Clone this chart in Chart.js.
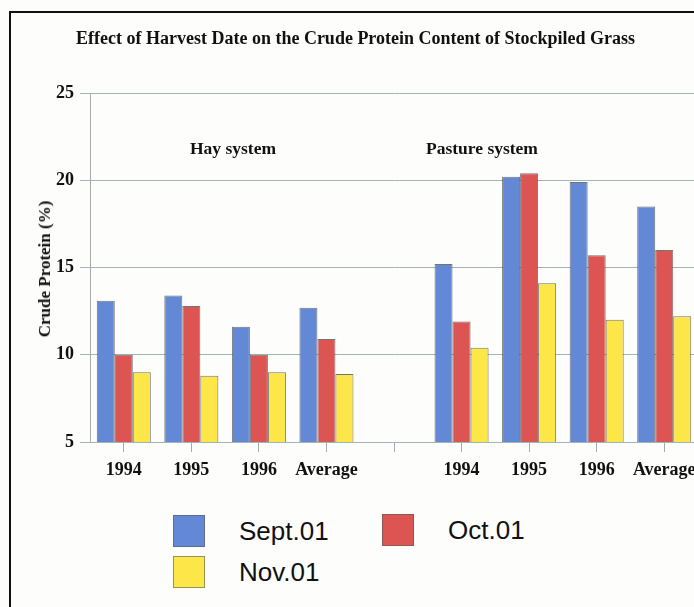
<!DOCTYPE html>
<html>
<head>
<meta charset="utf-8">
<script src="https://cdn.jsdelivr.net/npm/chart.js@4/dist/chart.umd.min.js"></script>
<style>
  html, body { margin:0; padding:0; background:#fdfdfc; }
  body { width:694px; height:607px; overflow:hidden; position:relative; }
  #frame { position:absolute; left:9px; top:11px; width:700px; height:620px;
           border-top:2.5px solid #111; border-left:2.5px solid #111; }
  #chart { position:absolute; left:0; top:0; }
  .serif { position:absolute; font-family:"Liberation Serif","Times New Roman",serif; font-weight:bold; color:#111; white-space:nowrap; }
  #title { left:0; width:711px; top:28px; text-align:center; font-size:18px; }
  #ytitle { left:45px; top:269px; font-size:17px; transform:translate(-50%,-50%) rotate(-90deg); }
  .group { top:138px; font-size:17.5px; }
  .leg-box { position:absolute; width:32px; height:32px; box-sizing:border-box; border:1px solid rgba(90,90,90,0.6); }
  .leg-txt { position:absolute; font-family:"Liberation Sans",Arial,sans-serif; font-size:26px; color:#111; line-height:32px; }
</style>
</head>
<body>
<div id="frame"></div>
<canvas id="chart" width="710" height="500"></canvas>
<div id="title" class="serif">Effect of Harvest Date on the Crude Protein Content of Stockpiled Grass</div>
<div id="ytitle" class="serif">Crude Protein (%)</div>
<div class="serif group" style="left:190px;">Hay system</div>
<div class="serif group" style="left:426px;">Pasture system</div>
<div id="legend"></div>
<script>
// categories: hay system, empty gap, pasture system
const categories = ['1994', '1995', '1996', 'Average', '', '1994', '1995', '1996', 'Average'];
const sept = [13.1, 13.4, 11.6, 12.7, null, 15.2, 20.2, 19.9, 18.5];
const oct  = [10.0, 12.8, 10.0, 10.9, null, 11.9, 20.4, 15.7, 16.0];
const nov  = [ 9.0,  8.8,  9.0,  8.9, null, 10.4, 14.1, 12.0, 12.2];
const seriesNames  = ['Sept.01', 'Oct.01', 'Nov.01'];
const seriesColors = ['#6288d6', '#dc5552', '#fde648'];
const yTicks = [5, 10, 15, 20, 25];

const serif = { family:'"Liberation Serif","Times New Roman",serif', weight:'bold', size:18 };
const gridColor = '#9fb6b4';

const datasets = [sept, oct, nov].map((data, i) => ({
  label: seriesNames[i],
  data,
  backgroundColor: seriesColors[i],
  borderColor: 'rgba(70,70,70,0.75)',
  borderWidth: 1,
  categoryPercentage: 0.8,
  barPercentage: 1.0
}));

new Chart(document.getElementById('chart'), {
  type: 'bar',
  data: { labels: categories, datasets },
  options: {
    responsive: false,
    animation: false,
    layout: { padding: { top: 93, right: 12, left: 0, bottom: 0 } },
    plugins: { legend: { display: false }, tooltip: { enabled: false } },
    scales: {
      x: {
        afterFit: s => { s.height = 58; },
        grid: { offset: false, drawOnChartArea: false, drawTicks: true, tickLength: 10, color: '#aaa' },
        border: { display: true, color: gridColor },
        ticks: { color: '#111', font: serif, padding: 8, maxRotation: 0, autoSkip: false }
      },
      y: {
        min: 5, max: 25,
        afterFit: s => { s.width = 90; },
        afterBuildTicks: s => { s.ticks = yTicks.map(v => ({ value: v })); },
        grid: { color: gridColor, drawTicks: true, tickLength: 10 },
        border: { display: true, color: '#aaa' },
        ticks: { color: '#111', font: serif, padding: 6 }
      }
    }
  }
});

// legend: two columns, left-aligned rows
const legPos = [[173, 515], [382, 514], [173, 556]];
document.getElementById('legend').innerHTML = seriesNames.map((name, i) => `
  <div class="leg-box" style="left:${legPos[i][0]}px;top:${legPos[i][1]}px;background:${seriesColors[i]};"></div>
  <div class="leg-txt" style="left:${legPos[i][0] + 66}px;top:${legPos[i][1]}px;">${name}</div>`).join('');
</script>
</body>
</html>
